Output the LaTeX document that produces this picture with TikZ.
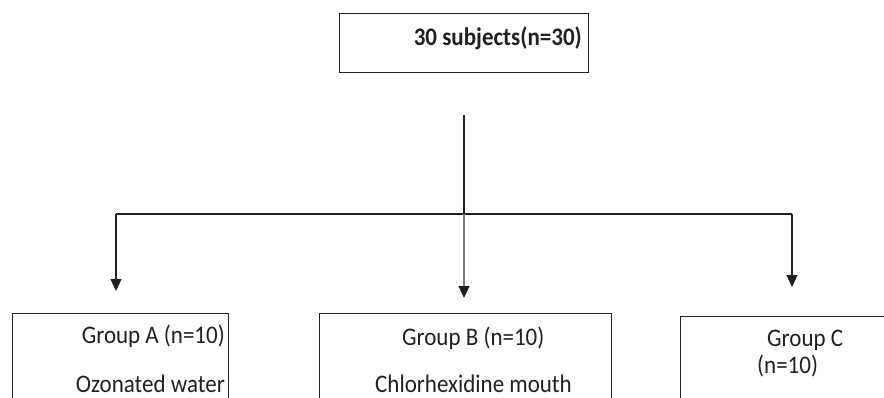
\documentclass[tikz,border=0pt]{standalone}
\usepackage{fontspec}
\usepackage{graphicx}
\setmainfont{Carlito}
\usetikzlibrary{arrows.meta}
\definecolor{ink}{HTML}{231F20}
\definecolor{shaft}{HTML}{7A7A7A}
\newcommand{\tallt}[1]{\scalebox{1}[1.1]{#1}}
\tikzset{
  box/.style={draw=ink, line width=1.3bp, rectangle, inner sep=0pt, anchor=north west},
  label/.style={inner sep=0pt, font=\fontsize{23bp}{27bp}\selectfont, text=ink},
  conn/.style={draw=ink, line width=1.1bp},
  arr/.style={conn, -{Triangle[width=11bp,length=12bp,color=ink]}}
}
\begin{document}
\begin{tikzpicture}[x=1bp,y=-1bp]
\useasboundingbox (0,0) rectangle (884,397);
\clip (0,0) rectangle (884,397);
% boxes
\node[box, minimum width=249bp, minimum height=59bp] (top) at (339,13) {};
\node[box, minimum width=216bp, minimum height=140bp] (boxA) at (12,313) {};
\node[box, minimum width=292bp, minimum height=140bp] (boxB) at (319,313) {};
\node[box, minimum width=260bp, minimum height=140bp] (boxC) at (680,316) {};
% texts
\node[label, anchor=base east, font=\fontsize{23bp}{27bp}\selectfont\bfseries] (ttop) at (582,45) {\tallt{30 subjects(n=30)}};
\node[label, anchor=base east] (ta1) at (225,343) {\tallt{Group A (n=10)}};
\node[label, anchor=base east] (ta2) at (225,392) {\tallt{Ozonated water}};
\node[label, anchor=base west] (tb1) at (402,345) {\tallt{Group B (n=10)}};
\node[label, anchor=base west] (tb2) at (375,392) {\tallt{Chlorhexidine mouth}};
\node[label, anchor=base west] (tc1) at (767,346) {\tallt{Group C}};
\node[label, anchor=base west] (tc2) at (757,373) {\tallt{(n=10)}};
% connectors
\coordinate (s) at (464,115);
\coordinate (j) at (464,214);
\coordinate (l) at (116,214);
\coordinate (r) at (792,214);
\coordinate (tipA) at (116,291);
\coordinate (tipB) at (464,298);
\coordinate (tipC) at (792,287);
\draw[conn] (s) -- (j);
\draw[conn] (l) -- (r);
\draw[arr] (l) -- (tipA);
\draw[arr, draw=shaft] (j) -- (tipB);
\draw[arr] (r) -- (tipC);
\end{tikzpicture}
\end{document}
